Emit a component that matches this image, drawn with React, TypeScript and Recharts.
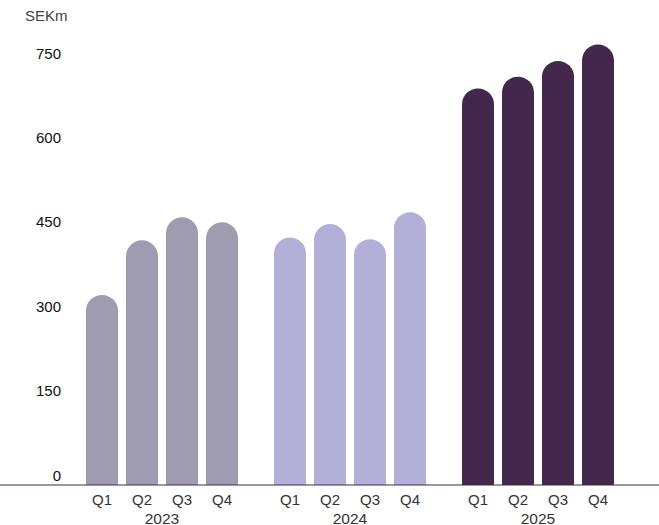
import { BarChart, Bar, XAxis, YAxis, Cell, LabelList } from 'recharts'

document.body.style.margin = '0'

const YEARS = ['2023', '2024', '2025']
const QUARTERS = ['Q1', 'Q2', 'Q3', 'Q4']
const Q1 = [338, 440, 705]
const Q2 = [435, 464, 726]
const Q3 = [476, 437, 754]
const Q4 = [467, 485, 783]
const Y_TICKS = [0, 150, 300, 450, 600, 750]

const YEAR_COLORS = ['#9f9bb1', '#b2b0d9', '#43284c']
const FONT = '"Liberation Sans", Arial, sans-serif'

const series = [Q1, Q2, Q3, Q4]
const data = YEARS.map((year, i) => ({
  year,
  q1: Q1[i],
  q2: Q2[i],
  q3: Q3[i],
  q4: Q4[i],
}))

const YTick = (props: any) => {
  const { y, payload } = props
  return (
    <text
      x={61}
      y={y - 4.5}
      textAnchor='end'
      fontSize={15}
      fontFamily={FONT}
      fill='#111'
    >
      {payload.value}
    </text>
  )
}

const YearTick = (props: any) => {
  const { x, y, payload } = props
  return (
    <text
      x={x}
      y={y + 38.5}
      textAnchor='middle'
      fontSize={15.5}
      fontFamily={FONT}
      fill='#333'
    >
      {payload.value}
    </text>
  )
}

const quarterLabel = (name: string) => (props: any) => {
  const { x, y, width, height } = props
  return (
    <text
      x={Number(x) + Number(width) / 2}
      y={Number(y) + Number(height) + 20}
      textAnchor='middle'
      fontSize={15}
      fontFamily={FONT}
      fill='#333'
    >
      {name}
    </text>
  )
}

const App = (): JSX.Element => {
  return (
    <div style={{ position: 'relative', width: 659, height: 525 }}>
      <div
        style={{
          position: 'absolute',
          left: 25,
          top: 7,
          fontSize: 15,
          fontFamily: FONT,
          color: '#444',
        }}
      >
        SEKm
      </div>
      <BarChart
        width={659}
        height={525}
        data={data}
        margin={{ top: 35, right: 0, bottom: 0, left: 0 }}
        barGap={8}
        style={{ overflow: 'visible' }}
      >
        <XAxis
          dataKey='year'
          height={40}
          padding={{ left: 68, right: 27 }}
          tickLine={false}
          tickSize={0}
          tickMargin={0}
          axisLine={{ stroke: '#43284c', strokeWidth: 1 }}
          tick={<YearTick />}
          interval={0}
        />
        <YAxis
          mirror
          domain={[0, 800]}
          ticks={Y_TICKS}
          axisLine={false}
          tickLine={false}
          tick={<YTick />}
        />
        {series.map((_, si) => (
          <Bar
            key={QUARTERS[si]}
            dataKey={`q${si + 1}`}
            name={QUARTERS[si]}
            barSize={32}
            radius={[16, 16, 0, 0]}
            isAnimationActive={false}
          >
            {data.map((entry, i) => (
              <Cell key={`cell-${entry.year}`} fill={YEAR_COLORS[i]} />
            ))}
            <LabelList content={quarterLabel(QUARTERS[si])} />
          </Bar>
        ))}
      </BarChart>
    </div>
  )
}

export default App
